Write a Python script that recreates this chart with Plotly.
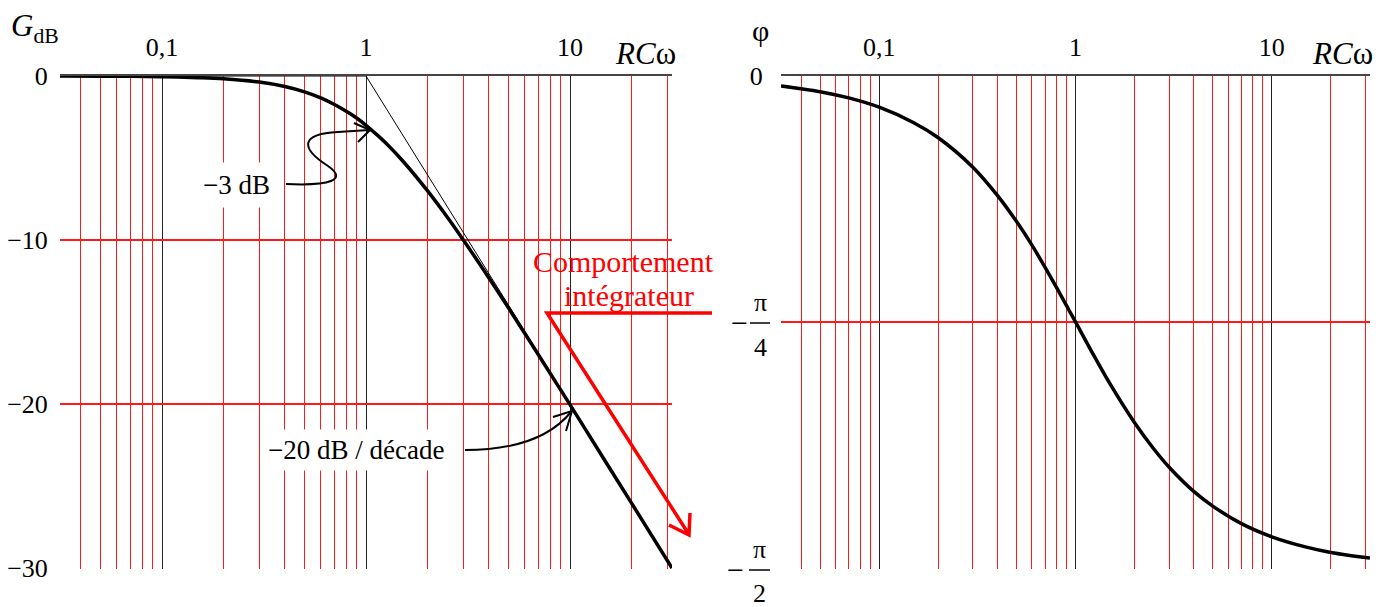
import plotly.graph_objects as go
import math

# ---------------- data ----------------
rc_omega = [0.03162, 0.05, 0.07, 0.1, 0.15, 0.2, 0.3, 0.4, 0.5, 0.6, 0.7, 0.8, 0.9, 1.0,
            1.25, 1.5, 2.0, 2.5, 3.0, 4.0, 5.0, 7.0, 10.0, 15.0, 20.0, 31.62]
gain_db = [-0.004, -0.011, -0.021, -0.043, -0.10, -0.17, -0.37, -0.64, -0.97, -1.34, -1.74,
           -2.15, -2.56, -3.01, -4.08, -5.12, -6.99, -8.60, -10.0, -12.3, -14.15, -17.0,
           -20.04, -23.55, -26.03, -30.0]
phase_rad = [-0.0316, -0.050, -0.070, -0.0997, -0.149, -0.197, -0.291, -0.381, -0.464, -0.540,
             -0.611, -0.675, -0.733, -0.785, -0.896, -0.983, -1.107, -1.190, -1.249, -1.326,
             -1.373, -1.429, -1.471, -1.504, -1.521, -1.539]

asym_x = [0.03162, 1.0, 31.62]
asym_db = [0, 0, -30]

major_x = [0.1, 1, 10]
major_x_labels = ["0,1", "1", "10"]
minor_x = [0.04, 0.05, 0.06, 0.07, 0.08, 0.09,
           0.2, 0.3, 0.4, 0.5, 0.6, 0.7, 0.8, 0.9,
           2, 3, 4, 5, 6, 7, 8, 9, 20, 30]
gain_ticks = [0, -10, -20, -30]
gain_labels = ["0", "\u221210", "\u221220", "\u221230"]
phase_ticks = [0, -math.pi / 4, -math.pi / 2]
phase_labels = ["0", "", ""]

# ---------------- helpers (screen pixel -> paper) ----------------
OFF = 8                      # page body margin
W, H = 1390 - OFF, 607 - OFF
def px(x):
    return (x - OFF) / W
def py(y):
    return 1 - (y - OFF) / H

SERIF = "Liberation Serif, Times New Roman, serif"
FS = 26

fig = go.Figure()
fig.add_trace(go.Scatter(x=asym_x, y=asym_db, mode="lines", line=dict(color="black", width=1),
                         xaxis="x", yaxis="y", hoverinfo="skip"))
fig.add_trace(go.Scatter(x=rc_omega, y=gain_db, mode="lines", line=dict(color="black", width=3.5, shape="spline"),
                         xaxis="x", yaxis="y"))
fig.add_trace(go.Scatter(x=rc_omega, y=phase_rad, mode="lines", line=dict(color="black", width=3.5, shape="spline"),
                         xaxis="x2", yaxis="y2"))

def xaxis_cfg(dom, anchor):
    return dict(type="log", range=[-1.5, 1.5], domain=dom, anchor=anchor, side="top",
                showline=True, linecolor="#444", linewidth=2, automargin=False,
                tickmode="array", tickvals=major_x, ticktext=major_x_labels,
                showgrid=True, gridcolor="#222", gridwidth=1,
                ticks="outside", ticklen=8, tickcolor="rgba(0,0,0,0)",
                tickfont=dict(family=SERIF, size=FS, color="black"),
                minor=dict(tickmode="array", tickvals=minor_x, showgrid=True,
                           gridcolor="#ff1a1a", gridwidth=1, ticks=""),
                zeroline=False, fixedrange=True)

ydom = [py(569), py(76)]
fig.update_layout(
    width=W, height=H, margin=dict(l=0, r=0, t=0, b=0, autoexpand=False),
    paper_bgcolor="white", plot_bgcolor="white", showlegend=False,
    xaxis=xaxis_cfg([px(60), px(672)], "y"),
    xaxis2=xaxis_cfg([px(781), px(1370)], "y2"),
    yaxis=dict(range=[-30.06, 0], domain=ydom, anchor="x", automargin=False,
               tickmode="array", tickvals=gain_ticks, ticktext=gain_labels,
               showgrid=True, gridcolor="#ff1a1a", gridwidth=1.5, zeroline=False, showline=False,
               ticks="outside", ticklen=6, tickcolor="rgba(0,0,0,0)",
               tickfont=dict(family=SERIF, size=FS, color="black")),
    yaxis2=dict(range=[-math.pi / 2 - 0.003, 0], domain=ydom, anchor="x2", automargin=False,
                tickmode="array", tickvals=phase_ticks, ticktext=phase_labels,
                showgrid=True, gridcolor="#ff1a1a", gridwidth=1.5, zeroline=False, showline=False,
                ticks="outside", ticklen=12, tickcolor="rgba(0,0,0,0)",
                tickfont=dict(family=SERIF, size=FS, color="black")),
)

ann = []
def text(x, y, t, size=FS, color="black", bg=None, xanchor="center", pad=1):
    d = dict(x=px(x), y=py(y), xref="paper", yref="paper", text=t, showarrow=False,
             font=dict(family=SERIF, size=size, color=color), xanchor=xanchor, yanchor="middle")
    if bg:
        d.update(bgcolor=bg, borderpad=pad)
    ann.append(d)

# axis titles
text(9, 28, "<i>G</i><sub>dB</sub>", size=31, xanchor="left")
text(645, 53, "<i>RC</i>\u03c9", size=31)
text(1342, 53, "<i>RC</i>\u03c9", size=31)
text(760, 31, "\u03c6", size=30)

# pi fraction labels
text(739, 322, "\u2212", size=30)
text(760, 302, "\u03c0", size=FS)
text(760, 347, "4", size=FS)
text(735, 569, "\u2212", size=30)
text(759, 549, "\u03c0", size=FS)
text(759, 593, "2", size=FS)

# annotations on the gain plot
text(236, 185, "\u22123 dB", size=27, bg="white", pad=7)
text(356, 450, "\u221220 dB / d\u00e9cade", size=27, bg="white", pad=5)
text(623, 261, "Comportement", size=30, color="#ff0000")
text(629, 295, "int\u00e9grateur", size=30, color="#ff0000")

def path_px(pts_cmds):
    out = []
    for c in pts_cmds:
        if isinstance(c, str):
            out.append(c)
        else:
            out.append(f"{px(c[0]):.5f},{py(c[1]):.5f}")
    return " ".join(out)

shapes = []
def add_path(cmds, color="black", width=1.5):
    shapes.append(dict(type="path", xref="paper", yref="paper", path=path_px(cmds),
                       line=dict(color=color, width=width), layer="above"))

# fraction bars
add_path(["M", (750, 323), "L", (770, 323)], width=1.5)
add_path(["M", (749, 570), "L", (770, 570)], width=1.5)

# -3 dB wavy arrow
add_path(["M", (286, 184), "C", (330, 186), (348, 180), (328, 166),
          "C", (300, 148), (300, 134), (338, 132), "L", (369, 130)], width=2)
add_path(["M", (354, 123), "L", (370, 130), "L", (358, 142)], width=2)

# -20 dB/decade arrow
add_path(["M", (465, 450), "Q", (540, 450), (571, 412)], width=2)
add_path(["M", (553, 417), "L", (572, 411), "L", (566, 431)], width=2)

# red arrow
add_path(["M", (712, 313), "L", (547, 313), "L", (688, 533)], color="#ff0000", width=3.5)
add_path(["M", (669, 525), "L", (689, 535), "L", (690, 513)], color="#ff0000", width=3.5)

fig.update_layout(annotations=ann, shapes=shapes)
fig.write_html("out.html")
